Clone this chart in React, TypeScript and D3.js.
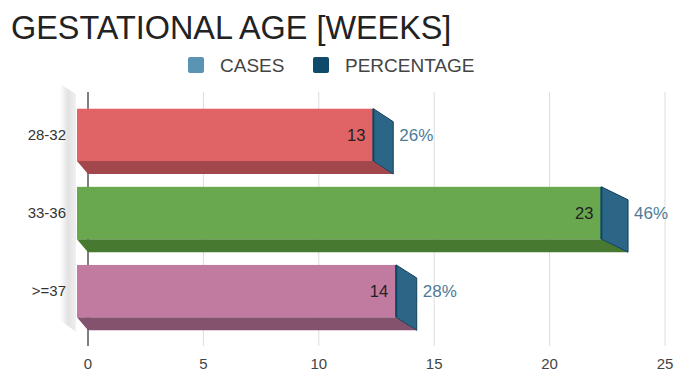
import React from "react";
import * as d3 from "d3";

const categories = ["28-32", "33-36", ">=37"];
const cases = [13, 23, 14];
const percentages = ["26%", "46%", "28%"];
const xTicks = [0, 5, 10, 15, 20, 25];
const legendLabels = ["CASES", "PERCENTAGE"];

const frontColors = ["#e06466", "#69a84f", "#c27ba0"];
const bottomColors = ["#a2474b", "#477a30", "#83526c"];

export default function App() {
  const W = 674, H = 374;
  const gridX = d3.scaleLinear().domain([0, 25]).range([88, 665]);
  const frontX = d3.scaleLinear().domain([0, 25]).range([77, 647]);
  const backX = d3.scaleLinear().domain([0, 25]).range([88, 675]);
  const y = d3.scaleBand().domain(categories).range([97, 329]).paddingInner(0.33).paddingOuter(0.15);
  const dy = 13;

  return (
    <svg width={W} height={H} style={{ position: "absolute", left: 0, top: 0, fontFamily: "Liberation Sans, Arial, sans-serif" }}>
      <defs>
        <linearGradient id="wall" x1="0" x2="1" y1="0" y2="0">
          <stop offset="0" stopColor="#ffffff" />
          <stop offset="0.5" stopColor="#e2e2e2" />
          <stop offset="1" stopColor="#f0f0f0" />
        </linearGradient>
      </defs>
      <rect x={0} y={0} width={W} height={H} fill="#fff" />
      <text x={11} y={39} fontSize={32.4} fill="#222">GESTATIONAL AGE [WEEKS]</text>
      <rect x={188} y={57} width={16} height={16} rx={2} fill="#5b93b3" />
      <text x={220} y={72} fontSize={19} fill="#444">{legendLabels[0]}</text>
      <rect x={313} y={57} width={16} height={16} rx={2} fill="#0f4a6a" />
      <text x={345} y={72} fontSize={19} fill="#444">{legendLabels[1]}</text>

      {/* left wall */}
      <polygon points={`60,84 76,94 76,332 60,320`} fill="url(#wall)" />

      {/* gridlines */}
      {xTicks.map((t) => (
        <line key={t} x1={gridX(t)} x2={gridX(t)} y1={92} y2={346} stroke={t === 0 ? "#555" : "#dcdcdc"} strokeWidth={t === 0 ? 1.5 : 1} />
      ))}
      {xTicks.map((t) => (
        <text key={"l" + t} x={gridX(t)} y={369} fontSize={15} fill="#444" textAnchor="middle">{t}</text>
      ))}

      {categories.map((c, i) => {
        const top = y(c)!;
        const h = y.bandwidth();
        const bot = top + h;
        const fx0 = frontX(0), fx1 = frontX(cases[i]);
        const bx0 = backX(0), bx1 = backX(cases[i]);
        return (
          <g key={c}>
            <polygon points={`${fx0},${bot} ${fx1},${bot} ${bx1},${bot + dy} ${bx0},${bot + dy}`} fill={bottomColors[i]} />
            <rect x={fx0} y={top} width={fx1 - fx0} height={h} fill={frontColors[i]} />
            <polygon points={`${fx1},${top} ${bx1},${top + dy} ${bx1},${bot + dy} ${fx1},${bot}`} fill="#2c6687" stroke="#123f5c" strokeWidth={1} />
            <line x1={fx1} x2={fx1} y1={top} y2={bot} stroke="#0f4565" strokeWidth={2} />
            <text x={fx1 - 8} y={top + h / 2 + 6} fontSize={16.5} fill="#222" textAnchor="end">{cases[i]}</text>
            <text x={bx1 + 6} y={top + h / 2 + 6} fontSize={17} fill="#4d7b98">{percentages[i]}</text>
            <text x={66} y={top + h / 2 + 5} fontSize={15} fill="#333" textAnchor="end">{c}</text>
          </g>
        );
      })}
    </svg>
  );
}
